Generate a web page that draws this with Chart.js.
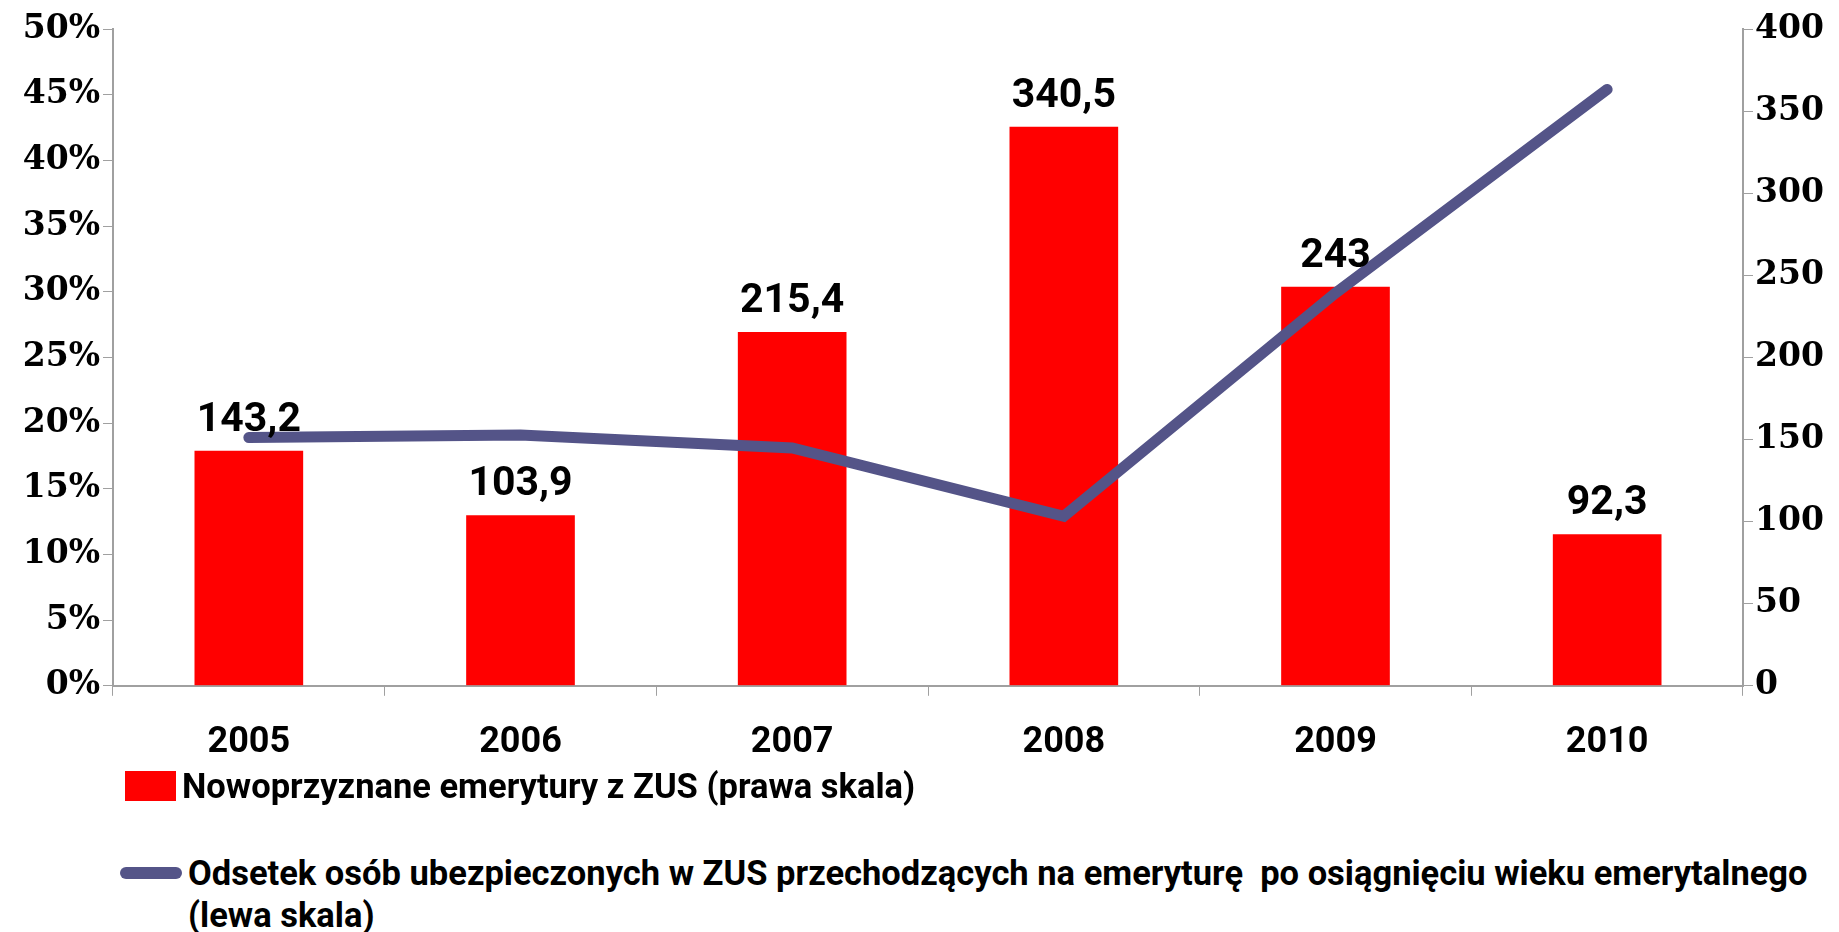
<!DOCTYPE html>
<html>
<head>
<meta charset="utf-8">
<script src="https://cdn.jsdelivr.net/npm/chart.js@4/dist/chart.umd.min.js"></script>
<style>
  body { margin: 0; background: #fff; }
  #wrap { position: relative; width: 1839px; height: 932px; }
  #chart { position: absolute; left: 0; top: 0; }
  .legend { position: absolute; font-family: Roboto, sans-serif; font-weight: bold; font-size: 34.5px; color: #000; white-space: normal; }
  .swatch { position: absolute; }
</style>
</head>
<body>
<div id="wrap">
  <canvas id="chart" width="1839" height="796"></canvas>
  <div class="swatch" style="left:125px;top:771px;width:51px;height:30px;background:#ff0000"></div>
  <div class="legend" id="leg1" style="left:182px;top:766px;line-height:40px"></div>
  <div class="swatch" style="left:120px;top:867px;width:62px;height:12px;border-radius:6px;background:#545488"></div>
  <div class="legend" id="leg2" style="left:188px;top:852px;width:1640px;line-height:42px"></div>
</div>
<script>
const years = ['2005', '2006', '2007', '2008', '2009', '2010']
const newPensions = [143.2, 103.9, 215.4, 340.5, 243, 92.3]
const shareAtAge = [18.9, 19.1, 18.1, 12.9, 29.9, 45.4]
const leftTicks = [0, 5, 10, 15, 20, 25, 30, 35, 40, 45, 50]
const rightTicks = [0, 50, 100, 150, 200, 250, 300, 350, 400]
const barLabel = 'Nowoprzyznane emerytury z ZUS (prawa skala)'
const lineLabel = 'Odsetek osób ubezpieczonych w ZUS przechodzących na emeryturę\u00a0 po osiągnięciu wieku emerytalnego (lewa skala)'

document.getElementById('leg1').textContent = barLabel
document.getElementById('leg2').textContent = lineLabel

const axisGray = '#a0a0a0'
const tickFont = { family: 'DejaVu Serif', weight: 'bold', size: 33 }

// value labels above the bars
const barValues = {
  id: 'barValues',
  afterDatasetsDraw(chart) {
    const meta = chart.getDatasetMeta(1)
    const ctx = chart.ctx
    ctx.save()
    ctx.font = 'bold 41px Roboto'
    ctx.fillStyle = '#000'
    ctx.textAlign = 'center'
    ctx.textBaseline = 'alphabetic'
    meta.data.forEach((el, i) => {
      const txt = String(newPensions[i]).replace('.', ',')
      ctx.fillText(txt, el.x, el.y - 20)
    })
    ctx.restore()
  }
}

new Chart(document.getElementById('chart'), {
  type: 'bar',
  data: {
    labels: years,
    datasets: [
      {
        type: 'line',
        label: lineLabel,
        data: shareAtAge,
        yAxisID: 'yLeft',
        borderColor: '#545488',
        borderWidth: 11,
        borderCapStyle: 'round',
        borderJoinStyle: 'miter',
        pointRadius: 0,
        tension: 0,
        order: 0
      },
      {
        type: 'bar',
        label: barLabel,
        data: newPensions,
        yAxisID: 'yRight',
        backgroundColor: '#ff0000',
        barPercentage: 0.4,
        categoryPercentage: 1,
        order: 1
      }
    ]
  },
  options: {
    responsive: false,
    animation: false,
    layout: { padding: { top: 29, bottom: 5, left: 0, right: 0 } },
    plugins: {
      legend: { display: false },
      tooltip: { enabled: false }
    },
    scales: {
      x: {
        grid: { display: true, drawOnChartArea: false, offset: true, color: axisGray, tickLength: 10 },
        border: { color: axisGray, width: 2 },
        ticks: { color: '#000', padding: 26, font: { family: 'Roboto', weight: 'bold', size: 36 } }
      },
      yLeft: {
        position: 'left',
        min: 0,
        max: 50,
        afterBuildTicks: s => { s.ticks = leftTicks.map(v => ({ value: v })) },
        afterFit: s => { s.width = 113 },
        grid: { drawOnChartArea: false, color: axisGray, tickLength: 10 },
        border: { color: axisGray, width: 2 },
        ticks: { color: '#000', padding: 3, font: tickFont, callback: v => v + '%' }
      },
      yRight: {
        position: 'right',
        min: 0,
        max: 400,
        afterBuildTicks: s => { s.ticks = rightTicks.map(v => ({ value: v })) },
        afterFit: s => { s.width = 96 },
        grid: { drawOnChartArea: false, color: axisGray, tickLength: 10 },
        border: { color: axisGray, width: 2 },
        ticks: { color: '#000', padding: 2, font: tickFont, callback: v => String(v) }
      }
    }
  },
  plugins: [barValues]
})
</script>
</body>
</html>
